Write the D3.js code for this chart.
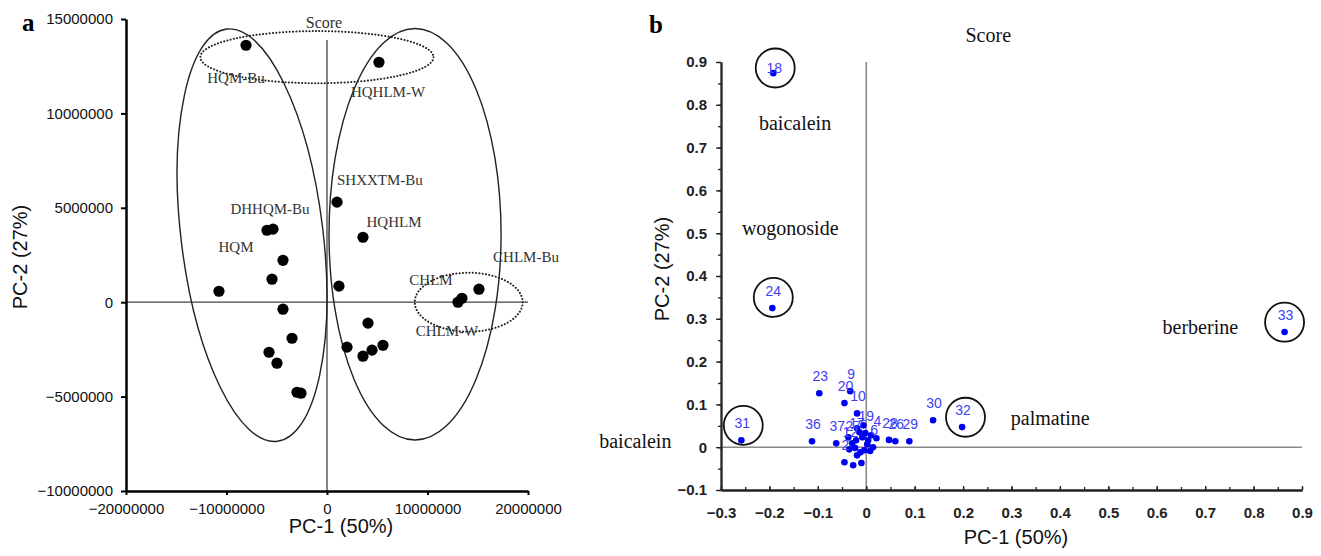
<!DOCTYPE html>
<html>
<head>
<meta charset="utf-8">
<script src="https://cdn.jsdelivr.net/npm/d3@7"></script>
<style>
  body { margin: 0; background: #fff; }
  svg { display: block; }
  .sans { font-family: "Liberation Sans", Arial, sans-serif; }
  .serif { font-family: "Liberation Serif", "Times New Roman", serif; }
</style>
</head>
<body>
<svg id="chart" width="1321" height="556"></svg>
<script>
// ---- panel a: sample scores ----
const scoreA_x = [-8.06e6, 5.17e6, 1.0e6, 3.58e6, -5.97e6, -5.37e6, -4.38e6, -5.47e6, -10.75e6, -4.38e6,
                  -3.48e6, -5.77e6, -4.98e6, -2.99e6, -2.59e6, 1.19e6, 4.08e6, 1.99e6, 3.58e6, 4.48e6,
                  5.57e6, 13.03e6, 13.43e6, 15.12e6];
const scoreA_y = [13.61e6, 12.71e6, 5.30e6, 3.44e6, 3.81e6, 3.87e6, 2.22e6, 1.22e6, 0.58e6, -0.37e6,
                  -1.91e6, -2.65e6, -3.23e6, -4.77e6, -4.82e6, 0.85e6, -1.11e6, -2.38e6, -2.86e6, -2.54e6,
                  -2.28e6, 0.0, 0.21e6, 0.69e6];
const ticksA_x = [-2e7, -1e7, 0, 1e7, 2e7];
const ticksA_y = [-1e7, -5e6, 0, 5e6, 1e7, 1.5e7];

// group labels (text, x, y in data units)
const groupLabels = ['HQM-Bu', 'HQHLM-W', 'SHXXTM-Bu', 'HQHLM', 'DHHQM-Bu', 'HQM', 'CHLM-Bu', 'CHLM', 'CHLM-W'];
const groupLabelX = [-9.05e6, 6.07e6, 5.27e6, 6.67e6, -5.67e6, -9.05e6, 19.8e6, 10.35e6, 11.94e6];
const groupLabelY = [11.86e6, 11.12e6, 6.46e6, 4.24e6, 4.93e6, 2.91e6, 2.38e6, 1.17e6, -1.54e6];

// grouping ellipses (centre, radii in data units, tilt in degrees)
const ellCx = [-7.46e6, 8.76e6, -1.0e6, 14.1e6];
const ellCy = [3.55e6, 3.6e6, 12.98e6, 0];
const ellRx = [7.06e6, 8.56e6, 11.6e6, 5.37e6];
const ellRy = [11.0e6, 10.9e6, 1.38e6, 1.56e6];
const ellRot = [-7, 0, 0, 0];
const ellDotted = [false, false, true, true];

// ---- panel b: compound loadings ----
const loadId = [18, 24, 33, 32, 31, 30, 29, 26, 28, 36, 23, 9, 20, 10,
                37, 2, 19, 4, 6, 27, 17, 12,
                1, 3, 5, 7, 8, 11, 13, 14, 15, 16, 21, 22, 25, 34, 35];
const loadX = [-0.192, -0.194, 0.864, 0.198, -0.258, 0.138, 0.089, 0.060, 0.047, -0.112, -0.097, -0.033, -0.045, -0.019,
               -0.062, -0.045, -0.002, 0.021, 0.014, -0.029, -0.021, -0.035,
               -0.027, -0.010, -0.019, -0.023, -0.012, -0.004, 0.008, 0.004, -0.008, -0.014, 0.010, -0.019, -0.006, -0.037, 0.002];
const loadY = [0.874, 0.325, 0.269, 0.047, 0.016, 0.063, 0.014, 0.014, 0.017, 0.014, 0.126, 0.131, 0.103, 0.079,
               0.009, -0.035, 0.033, 0.021, 0.0, 0.009, 0.016, -0.005,
               -0.042, -0.037, -0.019, -0.002, -0.012, -0.007, -0.009, 0.016, 0.023, 0.035, 0.028, 0.044, 0.051, 0.023, 0.007];
// labels hidden behind the cluster in the original
const hiddenIds = [1, 3, 5, 7, 8, 11, 13, 14, 15, 16, 21, 22, 25, 34, 35];
const ticksB_x = [-0.3, -0.2, -0.1, 0, 0.1, 0.2, 0.3, 0.4, 0.5, 0.6, 0.7, 0.8, 0.9];
const ticksB_y = [-0.1, 0, 0.1, 0.2, 0.3, 0.4, 0.5, 0.6, 0.7, 0.8, 0.9];

const compoundNames = ['Score', 'baicalein', 'wogonoside', 'baicalein', 'berberine', 'palmatine'];
const compoundX = [0.252, -0.147, -0.157, -0.477, 0.69, 0.38];
const compoundY = [0.963, 0.757, 0.512, 0.014, 0.280, 0.068];

const ringX = [-0.188, -0.192, -0.254, 0.205, 0.864];
const ringY = [0.886, 0.350, 0.051, 0.070, 0.292];

const svg = d3.select('#chart');

// ================= panel a =================
const xA = d3.scaleLinear().domain([-2e7, 2e7]).range([126, 528]);
const yA = d3.scaleLinear().domain([-1e7, 1.5e7]).range([491, 19]);

const gA = svg.append('g');

// zero lines
gA.append('line').attr('x1', xA(0)).attr('x2', xA(0)).attr('y1', 40).attr('y2', yA(-1e7))
    .attr('stroke', '#444').attr('stroke-width', 1.3);
gA.append('line').attr('x1', xA(-2e7)).attr('x2', xA(2e7)).attr('y1', yA(0)).attr('y2', yA(0))
    .attr('stroke', '#444').attr('stroke-width', 1.3);

// ellipses
ellCx.forEach((cx, i) => {
    let px = xA(cx), py = yA(ellCy[i]);
    let rx = xA(ellRx[i]) - xA(0), ry = yA(0) - yA(ellRy[i]);
    gA.append('ellipse')
        .attr('cx', px).attr('cy', py).attr('rx', rx).attr('ry', ry)
        .attr('transform', 'rotate(' + ellRot[i] + ',' + px + ',' + py + ')')
        .attr('fill', 'none')
        .attr('stroke', '#222')
        .attr('stroke-width', ellDotted[i] ? 2 : 1.4)
        .attr('stroke-dasharray', ellDotted[i] ? '0.1,3.2' : null)
        .attr('stroke-linecap', ellDotted[i] ? 'round' : null);
});

gA.selectAll('circle.pt')
    .data(scoreA_x)
    .enter()
    .append('circle')
    .attr('class', 'pt')
    .attr('cx', d => xA(d))
    .attr('cy', (d, i) => yA(scoreA_y[i]))
    .attr('r', 5.6)
    .attr('fill', '#000');

gA.selectAll('text.grp')
    .data(groupLabels)
    .enter()
    .append('text')
    .attr('class', 'grp serif')
    .attr('x', (d, i) => xA(groupLabelX[i]))
    .attr('y', (d, i) => yA(groupLabelY[i]))
    .attr('text-anchor', 'middle')
    .attr('dominant-baseline', 'central')
    .attr('font-size', 15)
    .attr('fill', '#333')
    .text(d => d);

gA.append('text').attr('class', 'serif')
    .attr('x', xA(-0.3e6)).attr('y', yA(14.83e6))
    .attr('text-anchor', 'middle').attr('dominant-baseline', 'central')
    .attr('font-size', 16).attr('fill', '#333').text('Score');

// axes
let axisA_y = d3.axisLeft(yA).tickValues(ticksA_y).tickFormat(d3.format('d'))
    .tickSize(5).tickSizeOuter(0).tickPadding(8);
let axisA_x = d3.axisBottom(xA).tickValues(ticksA_x).tickFormat(d3.format('d'))
    .tickSize(4).tickSizeOuter(0).tickPadding(8);

gA.append('g').attr('transform', 'translate(' + xA(-2e7) + ',0)').call(axisA_y);
gA.append('g').attr('transform', 'translate(0,' + yA(-1e7) + ')').call(axisA_x);
gA.selectAll('.domain').attr('stroke', '#000').attr('stroke-width', 2.5);
gA.selectAll('.tick line').attr('stroke', '#000').attr('stroke-width', 2);
gA.selectAll('.tick text').attr('class', 'sans').attr('font-size', 15).attr('fill', '#111');

gA.append('text').attr('class', 'sans')
    .attr('x', 341).attr('y', 526)
    .attr('text-anchor', 'middle').attr('dominant-baseline', 'central')
    .attr('font-size', 20).attr('fill', '#111').text('PC-1 (50%)');
gA.append('text').attr('class', 'sans')
    .attr('transform', 'translate(20,257) rotate(-90)')
    .attr('text-anchor', 'middle').attr('dominant-baseline', 'central')
    .attr('font-size', 20).attr('fill', '#111').text('PC-2 (27%)');
gA.append('text').attr('class', 'serif')
    .attr('x', 22).attr('y', 31).attr('font-size', 25).attr('font-weight', 'bold').text('a');

// ================= panel b =================
const xB = d3.scaleLinear().domain([-0.3, 0.9]).range([721, 1302]);
const yB = d3.scaleLinear().domain([-0.1, 0.9]).range([490, 62]);

const gB = svg.append('g');

gB.append('line').attr('x1', xB(0)).attr('x2', xB(0)).attr('y1', yB(0.9)).attr('y2', yB(-0.1))
    .attr('stroke', '#8a8a8a').attr('stroke-width', 1.6);
gB.append('line').attr('x1', xB(-0.3)).attr('x2', xB(0.9)).attr('y1', yB(0)).attr('y2', yB(0))
    .attr('stroke', '#8a8a8a').attr('stroke-width', 1.6);

// minor ticks at 0.05
let minorY = d3.range(-0.1, 0.9001, 0.05);
let minorX = d3.range(-0.3, 0.9001, 0.05);

let axisB_y = d3.axisLeft(yB).tickValues(ticksB_y).tickFormat(d => d3.format('.1~f')(d) === '-0' ? '0' : d3.format('~g')(d))
    .tickSize(5).tickSizeOuter(0).tickPadding(9);
let axisB_x = d3.axisBottom(xB).tickValues(ticksB_x).tickFormat(d3.format('~g'))
    .tickSize(-4).tickSizeOuter(0).tickPadding(17);

let gBy = gB.append('g').attr('transform', 'translate(' + xB(-0.3) + ',0)').call(axisB_y);
let gBx = gB.append('g').attr('transform', 'translate(0,' + yB(-0.1) + ')').call(axisB_x);
gBy.call(d3.axisLeft(yB).tickValues(minorY).tickFormat('').tickSize(3).tickSizeOuter(0));
gBx.call(d3.axisBottom(xB).tickValues(minorX).tickFormat('').tickSize(-3).tickSizeOuter(0));
// re-draw labelled ticks on top (second call replaces tick set)
gBy.selectAll('*').remove();
gBx.selectAll('*').remove();
gBy.append('g').call(d3.axisLeft(yB).tickValues(minorY).tickFormat('').tickSize(3).tickSizeOuter(0));
gBy.append('g').call(axisB_y);
gBx.append('g').call(d3.axisBottom(xB).tickValues(minorX).tickFormat('').tickSize(-3).tickSizeOuter(0));
gBx.append('g').call(axisB_x);

gB.selectAll('.domain').attr('stroke', '#222').attr('stroke-width', 1.8);
gB.selectAll('.tick line').attr('stroke', '#222').attr('stroke-width', 1.3);
gB.selectAll('.tick text').attr('class', 'sans').attr('font-size', 15)
    .attr('font-weight', 'bold').attr('fill', '#222');

// points
gB.selectAll('circle.ld')
    .data(loadX)
    .enter()
    .append('circle')
    .attr('class', 'ld')
    .attr('cx', d => xB(d))
    .attr('cy', (d, i) => yB(loadY[i]))
    .attr('r', 3.3)
    .attr('fill', '#0000f0');

gB.selectAll('text.ldl')
    .data(loadId.filter(id => !hiddenIds.includes(id)))
    .enter()
    .append('text')
    .attr('class', 'ldl sans')
    .attr('x', id => xB(loadX[loadId.indexOf(id)]) + 1)
    .attr('y', id => Math.max(yB(loadY[loadId.indexOf(id)]) - 17, yB(0.9) + 6))
    .attr('text-anchor', 'middle')
    .attr('dominant-baseline', 'central')
    .attr('font-size', 14)
    .attr('fill', '#4040f5')
    .text(id => id);

// rings around highlighted compounds
gB.selectAll('circle.ring')
    .data(ringX)
    .enter()
    .append('circle')
    .attr('class', 'ring')
    .attr('cx', d => xB(d))
    .attr('cy', (d, i) => yB(ringY[i]))
    .attr('r', 19.5)
    .attr('fill', 'none')
    .attr('stroke', '#111')
    .attr('stroke-width', 1.8);

gB.selectAll('text.cmp')
    .data(compoundNames)
    .enter()
    .append('text')
    .attr('class', 'cmp serif')
    .attr('x', (d, i) => xB(compoundX[i]))
    .attr('y', (d, i) => yB(compoundY[i]))
    .attr('text-anchor', 'middle')
    .attr('dominant-baseline', 'central')
    .attr('font-size', 20)
    .attr('fill', '#111')
    .text(d => d);

gB.append('text').attr('class', 'sans')
    .attr('x', 1016).attr('y', 537)
    .attr('text-anchor', 'middle').attr('dominant-baseline', 'central')
    .attr('font-size', 20).attr('fill', '#111').text('PC-1 (50%)');
gB.append('text').attr('class', 'sans')
    .attr('transform', 'translate(662,269) rotate(-90)')
    .attr('text-anchor', 'middle').attr('dominant-baseline', 'central')
    .attr('font-size', 20).attr('fill', '#111').text('PC-2 (27%)');
gB.append('text').attr('class', 'serif')
    .attr('x', 649).attr('y', 33).attr('font-size', 25).attr('font-weight', 'bold').text('b');
</script>
</body>
</html>
